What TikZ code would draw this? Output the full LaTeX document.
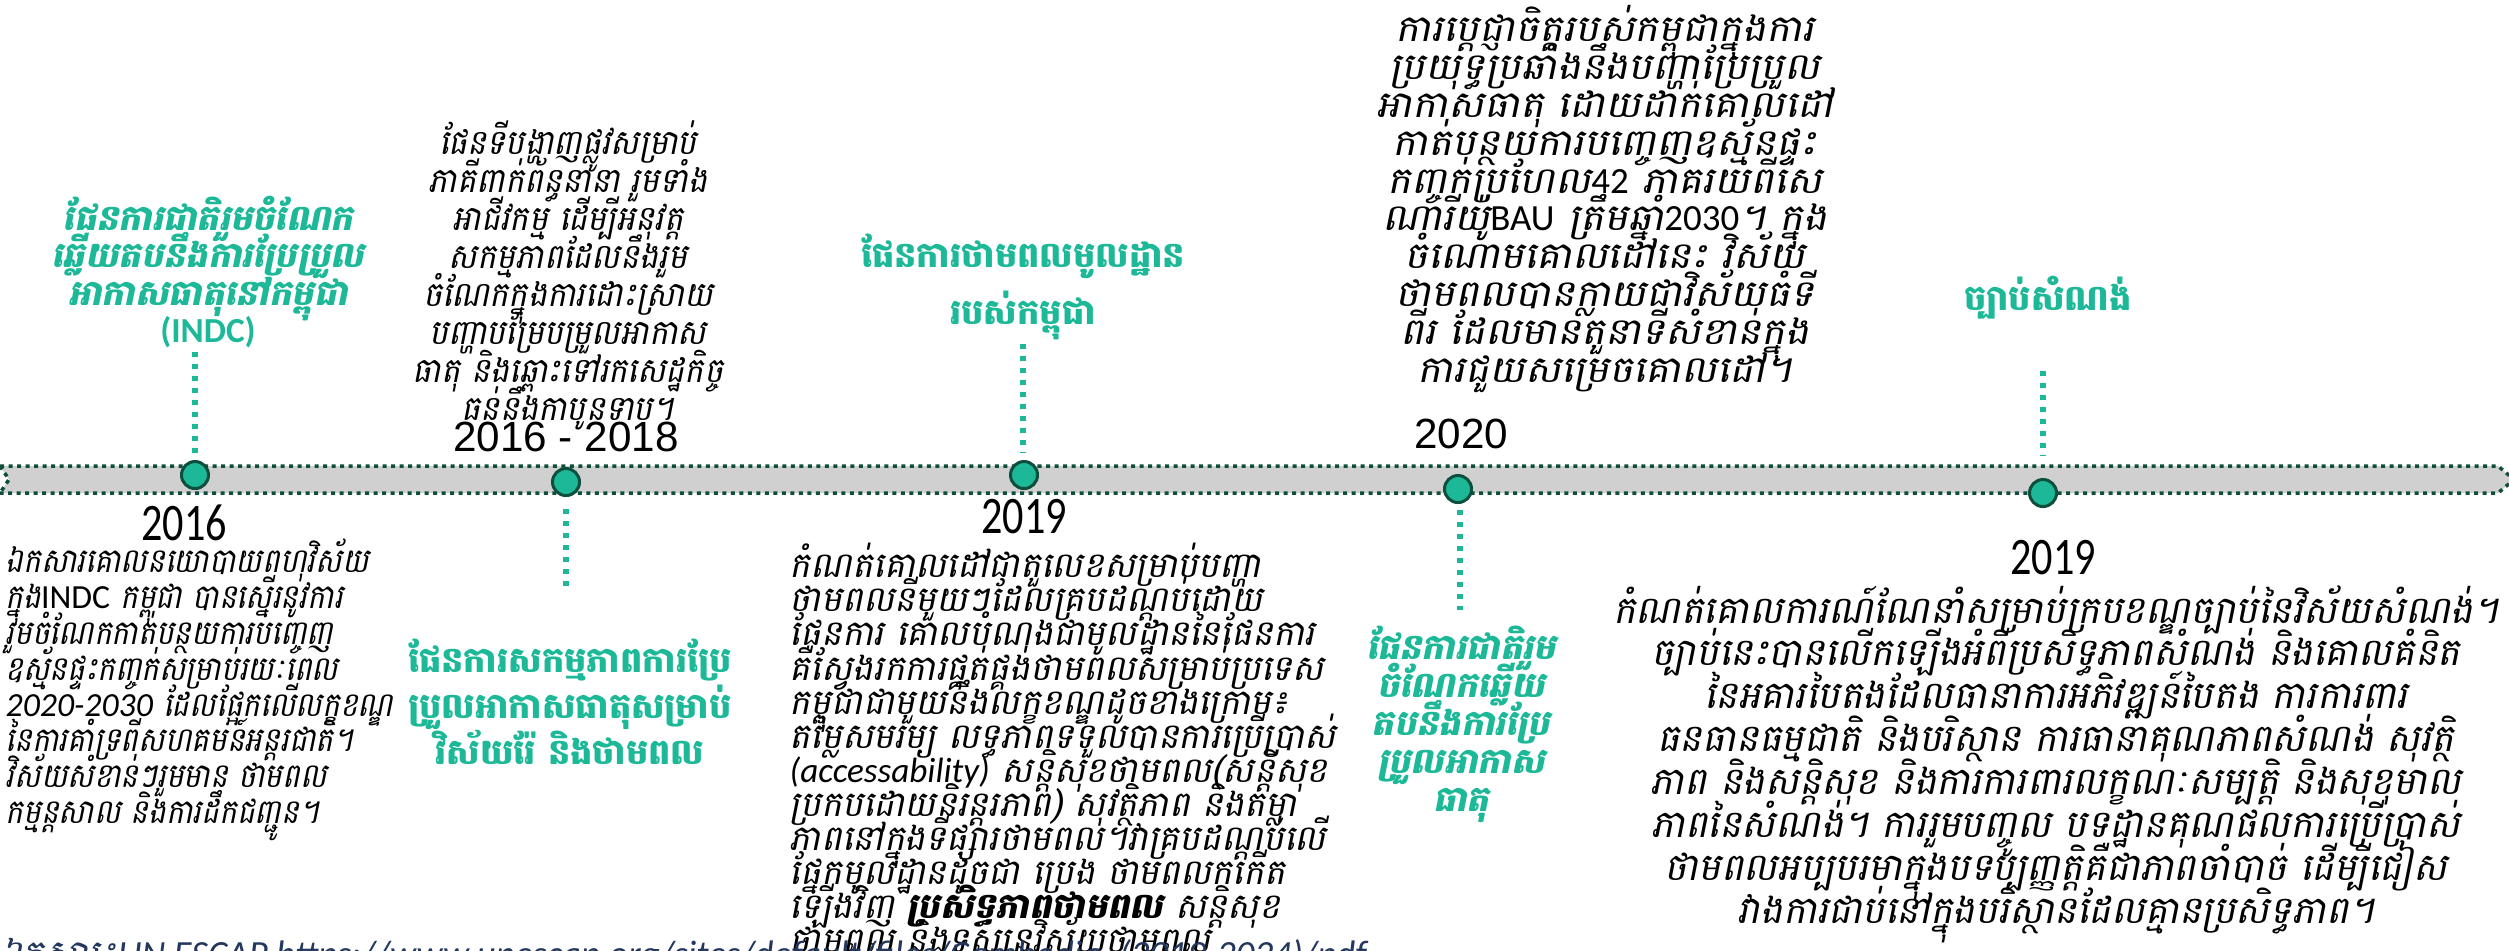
\documentclass[tikz,border=0pt]{standalone}
\usepackage{fontspec}
\newfontfamily\kh[Script=Khmer]{Battambang}
\newfontfamily\khi[Script=Khmer,FakeSlant=0.2,BoldFeatures={FakeSlant=0.2}]{Battambang}
\newfontfamily\khin[Script=Khmer,FakeSlant=0.2,FakeStretch=0.88]{Battambang}
\newfontfamily\khim[Script=Khmer,FakeSlant=0.2,FakeStretch=0.93]{Battambang}
\newfontfamily\khiw[Script=Khmer,FakeSlant=0.2,FakeStretch=1.09]{Battambang}
\newfontfamily\carl{Carlito}
\newfontfamily\libs{Liberation Sans}
\newcommand\latw[1]{{\carl #1}}
\newcommand\latwi[1]{{\carl\itshape #1}}
\definecolor{tealc}{RGB}{28,184,152}
\definecolor{darkg}{RGB}{14,78,60}
\definecolor{bandgray}{RGB}{208,208,208}
\definecolor{footc}{RGB}{35,55,95}
\tikzset{
  dotmark/.style={circle,minimum size=0.27cm,inner sep=0pt,fill=tealc,draw=darkg,line width=0.03cm},
  vdots/.style={draw=tealc,line width=0.055cm,dash pattern=on 0.05cm off 0.07cm},
  bandline/.style={draw=darkg,line width=0.035cm,dash pattern=on 0.04cm off 0.045cm},
  yearc/.style={inner sep=0pt,font={\carl\fontsize{15}{18}\selectfont}},
  yeara/.style={inner sep=0pt,font={\libs\fontsize{12}{14}\selectfont}},
  desc/.style n args={3}{inner sep=0pt,font={#1\fontsize{#2}{#3}\selectfont\lineskiplimit=-100pt}},
  ttl/.style={inner sep=0pt,text=tealc,align=center,font={\kh\bfseries\fontsize{10}{#1}\selectfont\lineskiplimit=-100pt}},
  ttli/.style={inner sep=0pt,text=tealc,align=center,font={\khi\bfseries\fontsize{10}{#1}\selectfont\lineskiplimit=-100pt}}
}
\begin{document}
\begin{tikzpicture}[x=0.01cm,y=-0.01cm]
\useasboundingbox (0,0) rectangle (2509,950);
\fill[white] (0,0) rectangle (2509,950);
% band
\fill[bandgray] (0,466) -- (2498,466) -- (2514,479.5) -- (2498,493) -- (0,493) -- (9,479.5) -- cycle;
\draw[bandline] (0,466) -- (2498,466) -- (2514,479.5) -- (2498,493) -- (0,493);
\draw[bandline] (0,466) -- (9,479.5) -- (0,493);
% markers
\node[dotmark] (c1) at (195,475) {};
\node[dotmark] (c2) at (566,482) {};
\node[dotmark] (c3) at (1024,475) {};
\node[dotmark] (c4) at (1458,489) {};
\node[dotmark] (c5) at (2043,493) {};
% connector ends
\coordinate (a1) at (195,352); \coordinate (b1) at (195,455);
\coordinate (a2) at (566,509); \coordinate (b2) at (566,589);
\coordinate (a3) at (1023,344); \coordinate (b3) at (1023,453);
\coordinate (a4) at (1460,510); \coordinate (b4) at (1460,610);
\coordinate (a5) at (2043,371); \coordinate (b5) at (2043,456);
\draw[vdots] (a1) -- (b1);
\draw[vdots] (a2) -- (b2);
\draw[vdots] (a3) -- (b3);
\draw[vdots] (a4) -- (b4);
\draw[vdots] (a5) -- (b5);
% years
\node[yearc] (y1) at (184,523) {\scalebox{0.8}[1]{2016}};
\node[yeara] (y2) at (566,437) {2016 - 2018};
\node[yearc] (y3) at (1024,517) {\scalebox{0.8}[1]{2019}};
\node[yeara] (y4) at (1461,434) {2020};
\node[yearc] (y5) at (2053,558) {\scalebox{0.8}[1]{2019}};
% titles
\node[ttli=10.6pt] (t1) at (208,272) {ផែនការជាតិរួមចំណែក\\ឆ្លើយតបនឹងការប្រែប្រួល\\អាកាសធាតុនៅកម្ពុជា\\{\carl\bfseries\upshape (INDC)}};
\node[ttl=13.1pt] (t2) at (570,702) {ផែនការសកម្មភាពការប្រែ\\ប្រួលអាកាសធាតុសម្រាប់\\វិស័យរ៉ែ និងថាមពល};
\node[ttl=16.2pt] (t3) at (1023,287) {ផែនការថាមពលមូលដ្ឋាន\\របស់កម្ពុជា};
\node[ttli=10.8pt] (t4) at (1461,724) {ផែនការជាតិរួម\\ចំណែកឆ្លើយ\\តបនឹងការប្រែ\\ប្រួលអាកាស\\ធាតុ};
\node[ttl=12pt] (t5) at (2048,298) {ច្បាប់សំណង់};
% descriptions
\node[desc={\khin}{9.6}{10.2},align=left,anchor=west] (d1) at (5,690) {ឯកសារគោលនយោបាយពហុវិស័យ\\ក្នុង\latw{INDC} កម្ពុជា បានស្នើរនូវការ\\រួមចំណែកកាត់បន្ថយការបញ្ចេញ\\ឧស្ម័នផ្ទះកញ្ចក់សម្រាប់រយៈពេល\\\latwi{2020-2030} ដែលផ្អែកលើលក្ខខណ្ឌ\\នៃការគាំទ្រពីសហគមន៍អន្តរជាតិ។\\វិស័យសំខាន់ៗរួមមាន ថាមពល\\កម្មន្តសាល និងការដឹកជញ្ជូន។};
\node[desc={\khim}{9.8}{10.8},align=center] (d2) at (568,275) {ផែនទីបង្ហាញផ្លូវសម្រាប់\\ភាគីពាក់ព័ន្ធនានា រួមទាំង\\អាជីវកម្ម ដើម្បីអនុវត្ត\\សកម្មភាពដែលនឹងរួម\\ចំណែកក្នុងការដោះស្រាយ\\បញ្ហាបម្រែបម្រួលអាកាស\\ធាតុ និងឆ្ពោះទៅរកសេដ្ឋកិច្ច\\ធន់នឹងកាបូនទាប។};
\node[desc={\khi}{10}{9.7},align=left,anchor=west] (d3) at (789,753) {កំណត់គោលដៅជាតួលេខសម្រាប់បញ្ហា\\ថាមពលនីមួយៗដែលគ្របដណ្តប់ដោយ\\ផែនការ គោលបំណងជាមូលដ្ឋាននៃផែនការ\\គឺស្វែងរកការផ្គត់ផ្គង់ថាមពលសម្រាប់ប្រទេស\\កម្ពុជាជាមួយនឹងលក្ខខណ្ឌដូចខាងក្រោម៖\\តម្លៃសមរម្យ លទ្ធភាពទទួលបានការប្រើប្រាស់\\\latwi{(accessability)} សន្តិសុខថាមពល(សន្តិសុខ\\ប្រកបដោយនិរន្តរភាព) សុវត្ថិភាព និងតម្លា\\ភាពនៅក្នុងទីផ្សារថាមពល។វាគ្របដណ្តប់លើ\\ផ្នែកមូលដ្ឋានដូចជា ប្រេង ថាមពលកកើត\\ឡើងវិញ {\bfseries ប្រសិទ្ធភាពថាមពល} សន្តិសុខ\\ថាមពល និងទស្សនវិស័យថាមពល};
\node[desc={\khiw}{10.5}{10.8},align=center] (d4) at (1605,199) {ការប្តេជ្ញាចិត្តរបស់កម្ពុជាក្នុងការ\\ប្រយុទ្ធប្រឆាំងនឹងបញ្ហាប្រែប្រួល\\អាកាសធាតុ ដោយដាក់គោលដៅ\\កាត់បន្ថយការបញ្ចេញឧស្ម័នផ្ទះ\\កញ្ចក់ប្រហែល\latw{42} ភាគរយពីសេ\\ណារីយ៉ូ\latw{BAU} ត្រឹមឆ្នាំ\latw{2030}។ ក្នុង\\ចំណោមគោលដៅនេះ វិស័យ\\ថាមពលបានក្លាយជាវិស័យធំទី\\ពីរ ដែលមានតួនាទីសំខាន់ក្នុង\\ការជួយសម្រេចគោលដៅ។};
\node[desc={\khi}{10.8}{12.2},align=center] (d5) at (2056,764) {កំណត់គោលការណ៍ណែនាំសម្រាប់ក្របខណ្ឌច្បាប់នៃវិស័យសំណង់។\\ច្បាប់នេះបានលើកឡើងអំពីប្រសិទ្ធភាពសំណង់ និងគោលគំនិត\\នៃអគារបៃតងដែលធានាការអភិវឌ្ឍន៍បៃតង ការការពារ\\ធនធានធម្មជាតិ និងបរិស្ថាន ការធានាគុណភាពសំណង់ សុវត្ថិ\\ភាព និងសន្តិសុខ និងការការពារលក្ខណៈសម្បត្តិ និងសុខុមាល\\ភាពនៃសំណង់។ ការរួមបញ្ចូល បទដ្ឋានគុណផលការប្រើប្រាស់\\ថាមពលអប្បបរមាក្នុងបទប្បញ្ញត្តិគឺជាភាពចាំបាច់ ដើម្បីជៀស\\វាងការជាប់នៅក្នុងបរិស្ថានដែលគ្មានប្រសិទ្ធភាព។};
% footer (cut by the page edge)
\node[inner sep=0pt,anchor=north west,text=footc,font={\khi\fontsize{10.5}{12}\selectfont}] (src) at (0,937) {ឯកសារ៖\latwi{UN ESCAP https://www.unescap.org/sites/default/files/Cambodia\_(2019-2024)/pdf}};
\end{tikzpicture}
\end{document}
